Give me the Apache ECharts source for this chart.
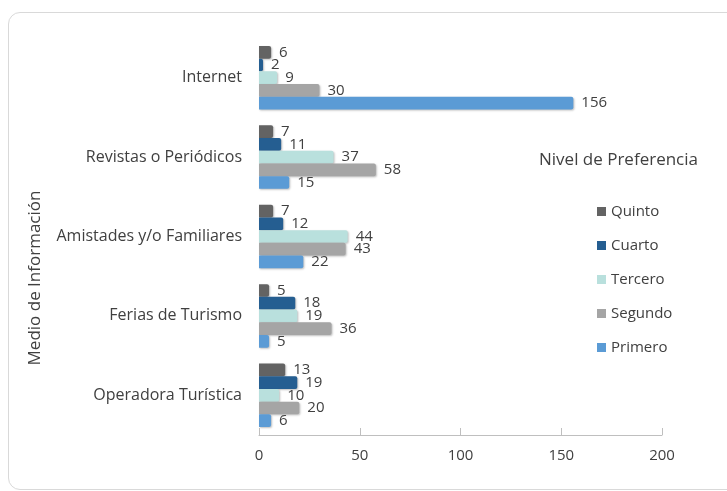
<!DOCTYPE html>
<html>
<head>
<meta charset="utf-8">
<script src="https://cdn.jsdelivr.net/npm/echarts@6/dist/echarts.min.js"></script>
<style>
html, body { margin: 0; padding: 0; background: #fff; }
#card { position: absolute; left: 8px; top: 12px; width: 740px; height: 476px;
	border: 1px solid #d9d9d9; border-radius: 12px; background: #fff; }
#echart { position: absolute; left: 0; top: 0; width: 727px; height: 491px; }
</style>
</head>
<body>
<div id="card"></div>
<div id="echart"></div>
<script>
var myChart = echarts.init(document.getElementById('echart'));

// categorias (de abajo hacia arriba)
var categorias = ['Operadora Turística', 'Ferias de Turismo', 'Amistades y/o Familiares', 'Revistas o Periódicos', 'Internet'];
var primero = [6, 5, 22, 15, 156];
var segundo = [20, 36, 43, 58, 30];
var tercero = [10, 19, 44, 37, 9];
var cuarto = [19, 18, 12, 11, 2];
var quinto = [13, 5, 7, 7, 6];
var ticksX = [0, 50, 100, 150, 200];

var colores = { Primero: '#5b9bd5', Segundo: '#a5a5a5', Tercero: '#b9e0dd', Cuarto: '#255e91', Quinto: '#636363' };
var fuente = '"Open Sans"';

function serie(nombre, datos) {
	return {
		name: nombre,
		type: 'bar',
		data: datos,
		barGap: '0%',
		barCategoryGap: '20%',
		itemStyle: {
			color: colores[nombre],
			borderRadius: [0, 2, 2, 0],
			shadowColor: 'rgba(0,0,0,0.25)',
			shadowBlur: 2,
			shadowOffsetX: 1,
			shadowOffsetY: 1
		},
		label: {
			show: true,
			position: 'right',
			distance: 8,
			color: '#404040',
			fontFamily: fuente,
			fontSize: 15
		}
	};
}

var option = {
	animation: false,
	grid: { left: 259, right: 65, top: 38, bottom: 56, containLabel: false },
	legend: {
		orient: 'vertical',
		left: 592,
		top: 199,
		itemGap: 19,
		itemWidth: 9,
		itemHeight: 9,
		icon: 'rect',
		data: ['Quinto', 'Cuarto', 'Tercero', 'Segundo', 'Primero'],
		textStyle: { color: '#404040', fontFamily: fuente, fontSize: 15 }
	},
	graphic: [{
		type: 'text',
		left: 539,
		top: 152,
		style: { text: 'Nivel de Preferencia', fill: '#404040', font: '17px ' + fuente }
	}, {
		type: 'text',
		x: 35,
		y: 278,
		rotation: Math.PI / 2,
		style: { text: 'Medio de Información', fill: '#404040', font: '17px ' + fuente,
			align: 'center', verticalAlign: 'middle' }
	}],
	xAxis: {
		type: 'value',
		min: ticksX[0],
		max: ticksX[ticksX.length - 1],
		interval: 50,
		splitLine: { show: false },
		axisLine: { show: true, lineStyle: { color: '#bfbfbf', width: 1 } },
		axisTick: { show: true, inside: true, length: 7, lineStyle: { color: '#bfbfbf' } },
		axisLabel: { color: '#404040', fontFamily: fuente, fontSize: 15, margin: 13 }
	},
	yAxis: {
		type: 'category',
		data: categorias,
		axisLine: { show: false },
		axisTick: { show: false },
		axisLabel: { color: '#404040', fontFamily: fuente, fontSize: 16, margin: 17 }
	},
	// Quinto arriba, Primero abajo dentro de cada grupo
	series: [
		serie('Quinto', quinto),
		serie('Cuarto', cuarto),
		serie('Tercero', tercero),
		serie('Segundo', segundo),
		serie('Primero', primero)
	]
};
myChart.setOption(option);
</script>
</body>
</html>
